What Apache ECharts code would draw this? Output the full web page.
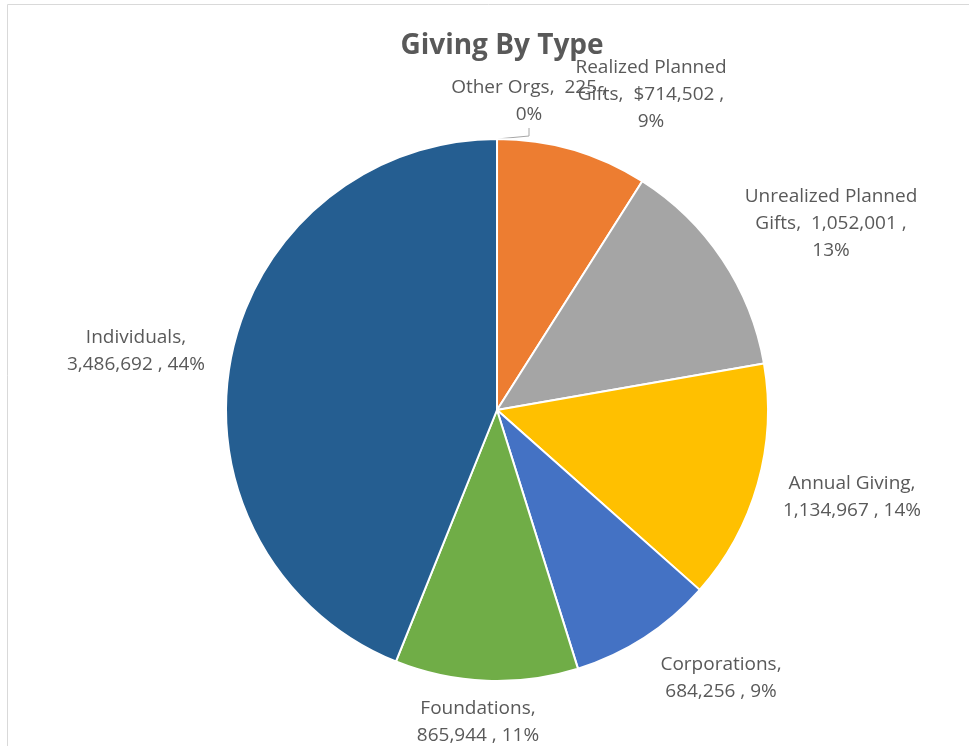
<!DOCTYPE html>
<html>
<head>
<meta charset="utf-8">
<script src="https://cdn.jsdelivr.net/npm/echarts@6/dist/echarts.min.js"></script>
<style>html,body{margin:0;padding:0;background:#fff}#c{width:969px;height:746px}</style>
</head>
<body>
<div id="c"></div>
<script>
const categories = ['Other Orgs', 'Realized Planned Gifts', 'Unrealized Planned Gifts', 'Annual Giving', 'Corporations', 'Foundations', 'Individuals'];
const values = [225, 714502, 1052001, 1134967, 684256, 865944, 3486692];
const valuePrefix = ['', '$', '', '', '', '', ''];
const labelTemplates = [
  '{name},  {value} ,\n{pct}%',
  'Realized Planned\nGifts,  {value} ,\n{pct}%',
  'Unrealized Planned\nGifts,  {value} ,\n{pct}%',
  '{name},\n{value} , {pct}%',
  '{name},\n{value} , {pct}%',
  '{name},\n{value} , {pct}%',
  '{name},\n{value} , {pct}%'
];
const colors = ['#5B9BD5', '#ED7D31', '#A5A5A5', '#FFC000', '#4472C4', '#70AD47', '#255E91'];
const labelPos = [[529, 101], [651, 95], [831, 224], [852, 497], [721, 678], [478, 722], [136, 351]];

const fmt = v => v.toLocaleString('en-US');
const chart = echarts.init(document.getElementById('c'));
chart.setOption({
  animation: false,
  title: {
    text: 'Giving By Type', left: 497, top: 27, textAlign: 'center',
    textStyle: { fontFamily: 'Open Sans', fontWeight: 'bold', fontSize: 28, color: '#595959' }
  },
  graphic: [{
    type: 'rect', shape: { x: 7.5, y: 4.5, width: 1000, height: 800 },
    style: { fill: 'none', stroke: '#d9d9d9', lineWidth: 1 }, silent: true
  }],
  series: [{
    type: 'pie',
    center: [497, 410],
    radius: 271,
    startAngle: 90,
    clockwise: true,
    itemStyle: { borderColor: '#fff', borderWidth: 2 },
    label: {
      show: true,
      position: 'outside',
      fontFamily: 'Open Sans',
      fontSize: 19,
      lineHeight: 27,
      color: '#595959',
      align: 'center',
      formatter: p => labelTemplates[p.dataIndex]
        .replace('{name}', p.name)
        .replace('{value}', valuePrefix[p.dataIndex] + fmt(p.value))
        .replace('{pct}', Math.round(p.percent))
    },
    labelLine: { show: false },
    labelLayout: p => ({
      x: labelPos[p.dataIndex][0],
      y: labelPos[p.dataIndex][1],
      align: 'center',
      verticalAlign: 'middle'
    }),
    data: categories.map((n, i) => ({
      name: n, value: values[i], itemStyle: { color: colors[i] },
      labelLine: i === 0 ? { show: true, length: 8, length2: 8, lineStyle: { color: '#a6a6a6', width: 1 } } : { show: false }
    }))
  }]
});
</script>
</body>
</html>
